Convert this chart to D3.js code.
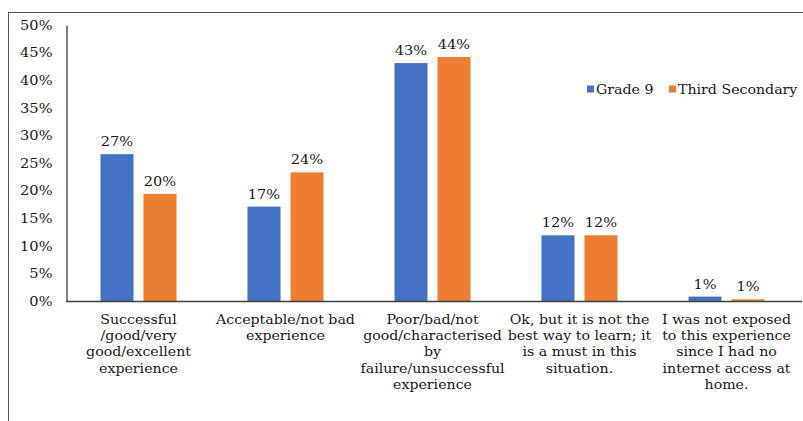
<!DOCTYPE html>
<html>
<head>
<meta charset="utf-8">
<script src="https://cdn.jsdelivr.net/npm/d3@7"></script>
<style>
  html, body { margin: 0; padding: 0; background: #fff; }
  svg { display: block; }
  .t { font-family: "DejaVu Serif", serif; font-size: 13.5px; fill: #1a1a1a; }
</style>
</head>
<body>
<svg id="chart" width="803" height="421"></svg>
<script>
const categories = [
  ["Successful", "/good/very", "good/excellent", "experience"],
  ["Acceptable/not bad", "experience"],
  ["Poor/bad/not", "good/characterised", "by", "failure/unsuccessful", "experience"],
  ["Ok, but it is not the", "best way to learn; it", "is a must in this", "situation."],
  ["I was not exposed", "to this experience", "since I had no", "internet access at", "home."]
];
const seriesNames = ["Grade 9", "Third Secondary"];
const grade9 = [0.266, 0.171, 0.431, 0.119, 0.008];
const thirdSecondary = [0.194, 0.233, 0.442, 0.119, 0.003];
const grade9Labels = ["27%", "17%", "43%", "12%", "1%"];
const thirdSecondaryLabels = ["20%", "24%", "44%", "12%", "1%"];
const yTicks = [0, 0.05, 0.10, 0.15, 0.20, 0.25, 0.30, 0.35, 0.40, 0.45, 0.50];
const colors = ["#4472C4", "#ED7D31"];

const SX = 1.05;     // slight horizontal stretch of the reference's lettering
const SXT = 1.08;    // tick labels
const svg = d3.select("#chart");
const catKeys = categories.map((c, i) => "c" + i);
const plotLeft = 65, plotRight = 800, plotTop = 25, plotBottom = 301;

// frame
svg.append("rect")
  .attr("x", 8.5).attr("y", 12.5)
  .attr("width", 820).attr("height", 440)
  .attr("fill", "none").attr("stroke", "#555").attr("stroke-width", 1);

const x0 = d3.scaleBand().domain(catKeys).range([plotLeft, plotRight]).padding(0);
const x1 = d3.scaleBand().domain(seriesNames).range([0, x0.bandwidth()])
  .paddingInner(0.2326).paddingOuter(0.8256);
const y = d3.scaleLinear().domain([0, 0.5]).range([plotBottom, plotTop]);

// y axis
const yAxis = d3.axisLeft(y).tickValues(yTicks).tickFormat(d3.format(".0%")).tickSize(0).tickPadding(14 / SXT);
const gy = svg.append("g").attr("transform", `translate(${plotLeft + 1.5},0)`).call(yAxis);
gy.attr("font-family", null).attr("font-size", null);
gy.select(".domain").attr("stroke", "#404040").attr("stroke-width", 1.3);
gy.selectAll("text").attr("class", "t").attr("fill", null)
  .attr("transform", `scale(${SXT},1)`);

const data = catKeys.map((k, i) => ({
  key: k,
  vals: [
    { s: seriesNames[0], v: grade9[i], label: grade9Labels[i] },
    { s: seriesNames[1], v: thirdSecondary[i], label: thirdSecondaryLabels[i] }
  ]
}));

const groups = svg.append("g").selectAll("g").data(data).join("g")
  .attr("transform", d => `translate(${x0(d.key)},0)`);

groups.selectAll("rect").data(d => d.vals).join("rect")
  .attr("x", d => x1(d.s))
  .attr("y", d => y(d.v))
  .attr("width", x1.bandwidth())
  .attr("height", d => y(0) - y(d.v))
  .attr("fill", (d, i) => colors[i]);

groups.selectAll("text.t").data(d => d.vals).join("text")
  .attr("class", "t")
  .attr("transform", d => `translate(${x1(d.s) + x1.bandwidth() / 2},${y(d.v) - 8}) scale(${SXT},1)`)
  .attr("text-anchor", "middle")
  .text(d => d.label);

// baseline
svg.append("line")
  .attr("x1", plotLeft + 1).attr("x2", 802)
  .attr("y1", plotBottom + 0.5).attr("y2", plotBottom + 0.5)
  .attr("stroke", "#404040").attr("stroke-width", 1.3);

// category labels
const catG = svg.append("g").selectAll("text").data(categories).join("text")
  .attr("class", "t")
  .attr("transform", (d, i) => `translate(${x0(catKeys[i]) + x0.bandwidth() / 2},324) scale(${SX},1)`)
  .attr("text-anchor", "middle");
catG.selectAll("tspan").data(d => d).join("tspan")
  .attr("x", 0)
  .attr("dy", (d, i) => i === 0 ? 0 : 16.2)
  .text(d => d);

// legend
const legendItems = [
  { name: seriesNames[0], x: 587, color: colors[0] },
  { name: seriesNames[1], x: 669, color: colors[1] }
];
const lg = svg.append("g").selectAll("g").data(legendItems).join("g")
  .attr("transform", d => `translate(${d.x},89)`);
lg.append("rect").attr("x", 0).attr("y", -3.5).attr("width", 7).attr("height", 7)
  .attr("fill", d => d.color);
lg.append("text").attr("class", "t")
  .attr("transform", `translate(9,4.5) scale(${SX},1)`)
  .text(d => d.name);
</script>
</body>
</html>
